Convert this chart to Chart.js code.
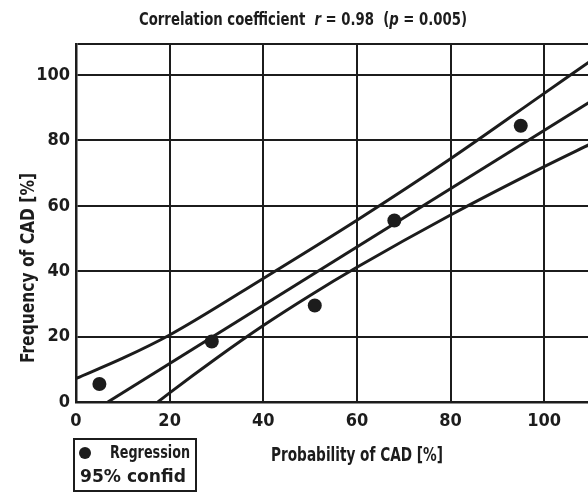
<!DOCTYPE html>
<html>
<head>
<meta charset="utf-8">
<script src="https://cdn.jsdelivr.net/npm/chart.js@4.4.0/dist/chart.umd.min.js"></script>
<style>
    html, body { margin: 0; padding: 0; background: #fff; overflow: hidden; }
    #wrap { width: 600px; height: 493px; }
</style>
</head>
<body>
<div id="wrap"><canvas id="chart"></canvas></div>
<script>
// observed points
const pointX = [5, 29, 51, 68, 95];
const pointY = [5.5, 18.5, 29.5, 55.5, 84.5];

// regression line
const regX = [6.8, 110];
const regY = [0, 92];

// 95% confidence band
const upperX = [0, 10, 20, 40, 60, 80, 100, 110];
const upperY = [7.2, 13.4, 20.5, 37.8, 55.6, 74.4, 94.4, 104.4];
const lowerX = [17.5, 20, 30, 40, 50, 60, 80, 100, 110];
const lowerY = [0, 2.8, 13.4, 23.4, 32.6, 41.2, 57.2, 72, 79];

const tickStep = 20;

const INK = '#1c1c1c';
const FONT = "'Liberation Sans Narrow', 'DejaVu Sans Condensed', sans-serif";

function toXY(xs, ys) {
    return xs.map((x, i) => ({ x: x, y: ys[i] }));
}

// draws text fitted to a given width (the scan uses a condensed face)
function fitted(ctx, parts, size, cx, cy, width) {
    let total = 0;
    parts.forEach(p => {
        ctx.font = (p[1] ? 'italic ' : '') + 'bold ' + size + 'px ' + FONT;
        total += ctx.measureText(p[0]).width;
    });
    const k = width / total;
    ctx.save();
    ctx.translate(cx - width / 2, cy);
    ctx.scale(k, 1);
    ctx.textAlign = 'left';
    let x = 0;
    parts.forEach(p => {
        ctx.font = (p[1] ? 'italic ' : '') + 'bold ' + size + 'px ' + FONT;
        ctx.fillText(p[0], x, 0);
        x += ctx.measureText(p[0]).width;
    });
    ctx.restore();
}

// title, axis titles and boxed legend, drawn on the canvas
const annotations = {
    id: 'annotations',
    afterDraw(chart) {
        const ctx = chart.ctx;
        ctx.save();
        ctx.fillStyle = INK;
        ctx.strokeStyle = INK;
        ctx.textBaseline = 'middle';

        fitted(ctx, [
            ['Correlation coefficient  ', false],
            ['r', true],
            [' = 0.98  (', false],
            ['p', true],
            [' = 0.005)', false]
        ], 18, 303, 20, 328);

        fitted(ctx, [['Probability of CAD [%]', false]], 19, 357, 456, 172);

        ctx.save();
        ctx.translate(29, 268);
        ctx.rotate(-Math.PI / 2);
        fitted(ctx, [['Frequency of CAD [%]', false]], 19, 0, 0, 190);
        ctx.restore();

        // legend box
        ctx.lineWidth = 2;
        ctx.strokeRect(74, 439, 122, 52);
        ctx.beginPath();
        ctx.arc(85, 453, 6, 0, Math.PI * 2);
        ctx.fill();
        fitted(ctx, [['Regression', false]], 17.5, 150, 453, 80);
        fitted(ctx, [['95% confid', false]], 17.5, 133, 477, 106);

        ctx.restore();
    }
};

const tickLabel = v => (v % tickStep === 0 ? v : '');

new Chart(document.getElementById('chart'), {
    type: 'scatter',
    data: {
        datasets: [
            {
                label: 'Regression',
                data: toXY(pointX, pointY),
                pointRadius: 7,
                pointHoverRadius: 7,
                backgroundColor: INK,
                borderWidth: 0
            },
            {
                label: 'Regression line',
                data: toXY(regX, regY),
                showLine: true,
                pointRadius: 0,
                borderColor: INK,
                borderWidth: 3
            },
            {
                label: '95% confid upper',
                data: toXY(upperX, upperY),
                showLine: true,
                pointRadius: 0,
                cubicInterpolationMode: 'monotone',
                borderColor: INK,
                borderWidth: 3
            },
            {
                label: '95% confid lower',
                data: toXY(lowerX, lowerY),
                showLine: true,
                pointRadius: 0,
                cubicInterpolationMode: 'monotone',
                borderColor: INK,
                borderWidth: 3
            }
        ]
    },
    options: {
        responsive: true,
        maintainAspectRatio: false,
        animation: false,
        layout: { padding: { top: 44, right: 5, left: 0, bottom: 0 } },
        plugins: {
            legend: { display: false },
            tooltip: { enabled: false }
        },
        scales: {
            x: {
                type: 'linear',
                min: 0,
                max: 110,
                afterFit: s => { s.height = 91; },
                ticks: {
                    stepSize: tickStep,
                    callback: tickLabel,
                    autoSkip: false,
                    color: INK,
                    padding: 9,
                    maxRotation: 0,
                    font: { family: FONT, weight: 'bold', size: 18 }
                },
                grid: { color: INK, lineWidth: 2, drawTicks: false },
                border: { color: INK, width: 2.5 }
            },
            y: {
                min: 0,
                max: 109.5,
                afterFit: s => { s.width = 76; },
                ticks: {
                    stepSize: tickStep,
                    callback: tickLabel,
                    autoSkip: false,
                    color: INK,
                    padding: 6,
                    font: { family: FONT, weight: 'bold', size: 18 }
                },
                grid: { color: INK, lineWidth: 2, drawTicks: false },
                border: { color: INK, width: 2.5 }
            }
        }
    },
    plugins: [annotations]
});
</script>
</body>
</html>
